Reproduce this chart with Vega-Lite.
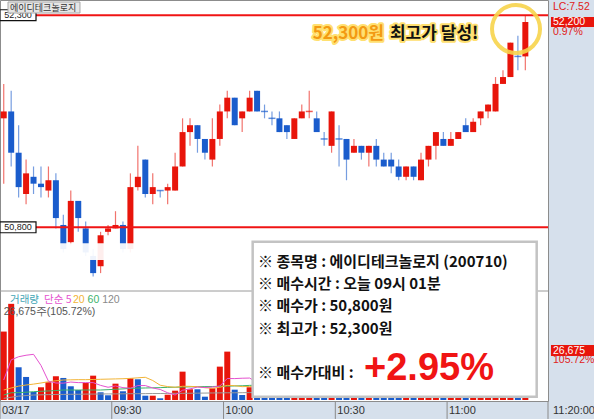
{
"$schema": "https://vega.github.io/schema/vega-lite/v6.json",
"width": 548, "height": 401,
"autosize": {"type": "none"},
"padding": {"left": 0, "top": 0, "right": 46, "bottom": 18},
"background": "#d6e0ec",
"config": {
  "view": {"fill": "#ffffff", "stroke": "#8c8c8c", "strokeWidth": 1},
  "font": "Liberation Sans",
  "axis": {"labelFont": "Liberation Sans", "labelFontSize": 10.5, "labelColor": "#4a4a4a", "tickColor": "#5a5a5a", "domain": false, "grid": false, "title": null}
},
"datasets": {
  "candles": [
    {"t":"2025-03-17T09:00","o":50800,"h":51300,"l":49850,"c":50900,"d":"up","v":37000,"vd":"up"},
    {"t":"2025-03-17T09:02","o":50900,"h":51200,"l":50100,"c":50300,"d":"down","v":52000,"vd":"up"},
    {"t":"2025-03-17T09:04","o":50300,"h":50700,"l":49650,"c":49800,"d":"down","v":17700,"vd":"down"},
    {"t":"2025-03-17T09:06","o":49700,"h":50200,"l":49550,"c":50000,"d":"up","v":12460,"vd":"down"},
    {"t":"2025-03-17T09:08","o":49950,"h":50100,"l":49700,"c":49850,"d":"down","v":4330,"vd":"down"},
    {"t":"2025-03-17T09:10","o":49850,"h":50100,"l":49650,"c":49800,"d":"down","v":6880,"vd":"up"},
    {"t":"2025-03-17T09:12","o":49750,"h":50100,"l":49650,"c":49900,"d":"up","v":9590,"vd":"up"},
    {"t":"2025-03-17T09:14","o":49900,"h":50000,"l":49200,"c":49350,"d":"down","v":12840,"vd":"up"},
    {"t":"2025-03-17T09:16","o":49250,"h":49400,"l":48850,"c":48900,"d":"down","v":11920,"vd":"down"},
    {"t":"2025-03-17T09:18","o":49000,"h":49750,"l":48950,"c":49600,"d":"up","v":7420,"vd":"down"},
    {"t":"2025-03-17T09:20","o":49600,"h":49600,"l":49150,"c":49350,"d":"down","v":5420,"vd":"down"},
    {"t":"2025-03-17T09:22","o":49200,"h":49300,"l":48800,"c":48850,"d":"down","v":9210,"vd":"up"},
    {"t":"2025-03-17T09:24","o":48800,"h":48900,"l":48500,"c":48550,"d":"down","v":13160,"vd":"up"},
    {"t":"2025-03-17T09:26","o":48650,"h":49150,"l":48550,"c":49100,"d":"up","v":4170,"vd":"down"},
    {"t":"2025-03-17T09:28","o":49150,"h":49250,"l":49100,"c":49200,"d":"up","v":2550,"vd":"down"},
    {"t":"2025-03-17T09:30","o":49200,"h":49450,"l":49200,"c":49250,"d":"up","v":8830,"vd":"up"},
    {"t":"2025-03-17T09:32","o":49250,"h":49300,"l":48850,"c":48900,"d":"down","v":4710,"vd":"down"},
    {"t":"2025-03-17T09:34","o":48900,"h":50000,"l":48850,"c":49800,"d":"up","v":11750,"vd":"up"},
    {"t":"2025-03-17T09:36","o":49800,"h":50400,"l":49750,"c":49950,"d":"up","v":11210,"vd":"down"},
    {"t":"2025-03-17T09:38","o":50200,"h":50200,"l":49650,"c":49700,"d":"down","v":2330,"vd":"down"},
    {"t":"2025-03-17T09:40","o":49700,"h":50000,"l":49550,"c":49800,"d":"up","v":2330,"vd":"up"},
    {"t":"2025-03-17T09:42","o":49750,"h":49750,"l":49650,"c":49750,"d":"down","v":920,"vd":"down"},
    {"t":"2025-03-17T09:44","o":49750,"h":49850,"l":49550,"c":49800,"d":"up","v":2870,"vd":"up"},
    {"t":"2025-03-17T09:46","o":49750,"h":50300,"l":49750,"c":50100,"d":"up","v":5040,"vd":"up"},
    {"t":"2025-03-17T09:48","o":50100,"h":50800,"l":50100,"c":50600,"d":"up","v":15330,"vd":"up"},
    {"t":"2025-03-17T09:50","o":50600,"h":50800,"l":50400,"c":50700,"d":"up","v":5800,"vd":"up"},
    {"t":"2025-03-17T09:52","o":50700,"h":50700,"l":50300,"c":50500,"d":"down","v":5800,"vd":"down"},
    {"t":"2025-03-17T09:54","o":50500,"h":50500,"l":50200,"c":50300,"d":"down","v":1790,"vd":"down"},
    {"t":"2025-03-17T09:56","o":50200,"h":50800,"l":50100,"c":50500,"d":"up","v":6340,"vd":"up"},
    {"t":"2025-03-17T09:58","o":50500,"h":51000,"l":50400,"c":50900,"d":"up","v":18040,"vd":"up"},
    {"t":"2025-03-17T10:00","o":50900,"h":51200,"l":50800,"c":51100,"d":"up","v":26160,"vd":"up"},
    {"t":"2025-03-17T10:02","o":51100,"h":51100,"l":50700,"c":50700,"d":"down","v":5580,"vd":"down"},
    {"t":"2025-03-17T10:04","o":50800,"h":50900,"l":50600,"c":50900,"d":"up","v":2710,"vd":"down"},
    {"t":"2025-03-17T10:06","o":50900,"h":51200,"l":50900,"c":51100,"d":"up","v":6880,"vd":"up"},
    {"t":"2025-03-17T10:08","o":51200,"h":51200,"l":50900,"c":50900,"d":"down","v":6000,"vd":"down"},
    {"t":"2025-03-17T10:10","o":50900,"h":51000,"l":50800,"c":50900,"d":"down","v":3000,"vd":"down"},
    {"t":"2025-03-17T10:12","o":50800,"h":50900,"l":50700,"c":50800,"d":"down","v":2500,"vd":"down"},
    {"t":"2025-03-17T10:14","o":50800,"h":50900,"l":50600,"c":50600,"d":"down","v":4000,"vd":"down"},
    {"t":"2025-03-17T10:16","o":50700,"h":50700,"l":50500,"c":50600,"d":"down","v":3000,"vd":"down"},
    {"t":"2025-03-17T10:18","o":50500,"h":50800,"l":50500,"c":50800,"d":"up","v":5000,"vd":"up"},
    {"t":"2025-03-17T10:20","o":50800,"h":51000,"l":50800,"c":50900,"d":"up","v":4000,"vd":"up"},
    {"t":"2025-03-17T10:22","o":50900,"h":51200,"l":50800,"c":50900,"d":"up","v":2500,"vd":"up"},
    {"t":"2025-03-17T10:24","o":50800,"h":50900,"l":50600,"c":50600,"d":"down","v":4500,"vd":"down"},
    {"t":"2025-03-17T10:26","o":50500,"h":50600,"l":50400,"c":50500,"d":"down","v":2000,"vd":"down"},
    {"t":"2025-03-17T10:28","o":50400,"h":50900,"l":50300,"c":50900,"d":"up","v":9000,"vd":"up"},
    {"t":"2025-03-17T10:30","o":50500,"h":50700,"l":50100,"c":50500,"d":"down","v":3500,"vd":"down"},
    {"t":"2025-03-17T10:32","o":50500,"h":50500,"l":49900,"c":50200,"d":"down","v":7000,"vd":"down"},
    {"t":"2025-03-17T10:34","o":50300,"h":50500,"l":50300,"c":50400,"d":"up","v":2500,"vd":"up"},
    {"t":"2025-03-17T10:36","o":50400,"h":50400,"l":50200,"c":50300,"d":"down","v":2000,"vd":"down"},
    {"t":"2025-03-17T10:38","o":50300,"h":50400,"l":50100,"c":50400,"d":"up","v":2200,"vd":"up"},
    {"t":"2025-03-17T10:40","o":50400,"h":50500,"l":50100,"c":50200,"d":"down","v":3800,"vd":"down"},
    {"t":"2025-03-17T10:42","o":50200,"h":50300,"l":50100,"c":50100,"d":"down","v":2500,"vd":"down"},
    {"t":"2025-03-17T10:44","o":50200,"h":50300,"l":50000,"c":50100,"d":"down","v":2600,"vd":"down"},
    {"t":"2025-03-17T10:46","o":50100,"h":50200,"l":49900,"c":49950,"d":"down","v":4200,"vd":"down"},
    {"t":"2025-03-17T10:48","o":49950,"h":50100,"l":49900,"c":50100,"d":"up","v":3000,"vd":"up"},
    {"t":"2025-03-17T10:50","o":50100,"h":50100,"l":49900,"c":49950,"d":"down","v":2600,"vd":"down"},
    {"t":"2025-03-17T10:52","o":49900,"h":50300,"l":49900,"c":50200,"d":"up","v":6500,"vd":"up"},
    {"t":"2025-03-17T10:54","o":50200,"h":50400,"l":50100,"c":50400,"d":"up","v":5200,"vd":"up"},
    {"t":"2025-03-17T10:56","o":50400,"h":50600,"l":50200,"c":50600,"d":"up","v":6100,"vd":"up"},
    {"t":"2025-03-17T10:58","o":50500,"h":50600,"l":50400,"c":50400,"d":"down","v":2800,"vd":"down"},
    {"t":"2025-03-17T11:00","o":50400,"h":50600,"l":50400,"c":50500,"d":"up","v":3100,"vd":"up"},
    {"t":"2025-03-17T11:02","o":50500,"h":50600,"l":50500,"c":50600,"d":"up","v":3300,"vd":"up"},
    {"t":"2025-03-17T11:04","o":50700,"h":50800,"l":50600,"c":50600,"d":"down","v":2900,"vd":"down"},
    {"t":"2025-03-17T11:06","o":50600,"h":50800,"l":50600,"c":50750,"d":"up","v":4800,"vd":"up"},
    {"t":"2025-03-17T11:08","o":50800,"h":50900,"l":50700,"c":50900,"d":"up","v":4200,"vd":"up"},
    {"t":"2025-03-17T11:10","o":50900,"h":51000,"l":50800,"c":51000,"d":"up","v":4600,"vd":"up"},
    {"t":"2025-03-17T11:12","o":50900,"h":51400,"l":50900,"c":51300,"d":"up","v":12500,"vd":"up"},
    {"t":"2025-03-17T11:14","o":51300,"h":51500,"l":51300,"c":51400,"d":"up","v":7800,"vd":"up"},
    {"t":"2025-03-17T11:16","o":51400,"h":51900,"l":51400,"c":51900,"d":"up","v":21000,"vd":"up"},
    {"t":"2025-03-17T11:18","o":51700,"h":52000,"l":51500,"c":51700,"d":"down","v":15000,"vd":"down"},
    {"t":"2025-03-17T11:20","o":51700,"h":52300,"l":51500,"c":52200,"d":"up","v":26675,"vd":"up"}
  ],
  "ma": [
    {"t":"2025-03-17T09:00","m5":10800,"m20":5400,"m60":2700,"m120":900},
    {"t":"2025-03-17T09:02","m5":21700,"m20":6500,"m60":3900,"m120":1500},
    {"t":"2025-03-17T09:04","m5":23400,"m20":7500,"m60":4000,"m120":2100},
    {"t":"2025-03-17T09:06","m5":24200,"m20":8100,"m60":4200,"m120":2400},
    {"t":"2025-03-17T09:08","m5":24700,"m20":8600,"m60":4500,"m120":2700},
    {"t":"2025-03-17T09:10","m5":18700,"m20":9200,"m60":4700,"m120":2800},
    {"t":"2025-03-17T09:12","m5":10200,"m20":9900,"m60":4900,"m120":2900},
    {"t":"2025-03-17T09:14","m5":9200,"m20":10400,"m60":5100,"m120":3000},
    {"t":"2025-03-17T09:16","m5":9100,"m20":10800,"m60":5400,"m120":3000},
    {"t":"2025-03-17T09:18","m5":9700,"m20":10900,"m60":5400,"m120":3100},
    {"t":"2025-03-17T09:20","m5":9400,"m20":11000,"m60":5400,"m120":3100},
    {"t":"2025-03-17T09:22","m5":9400,"m20":11000,"m60":5400,"m120":3200},
    {"t":"2025-03-17T09:24","m5":9400,"m20":11100,"m60":5400,"m120":3200},
    {"t":"2025-03-17T09:26","m5":7900,"m20":11200,"m60":5400,"m120":3250},
    {"t":"2025-03-17T09:28","m5":6900,"m20":11300,"m60":5600,"m120":3300},
    {"t":"2025-03-17T09:30","m5":7600,"m20":11400,"m60":5800,"m120":3300},
    {"t":"2025-03-17T09:32","m5":6700,"m20":11500,"m60":6000,"m120":3350},
    {"t":"2025-03-17T09:34","m5":6400,"m20":11700,"m60":6300,"m120":3400},
    {"t":"2025-03-17T09:36","m5":7800,"m20":12000,"m60":6400,"m120":3400},
    {"t":"2025-03-17T09:38","m5":7800,"m20":12270,"m60":6500,"m120":3450},
    {"t":"2025-03-17T09:40","m5":6500,"m20":10540,"m60":6600,"m120":3500},
    {"t":"2025-03-17T09:42","m5":5700,"m20":7990,"m60":6700,"m120":3500},
    {"t":"2025-03-17T09:44","m5":3900,"m20":7250,"m60":6850,"m120":3550},
    {"t":"2025-03-17T09:46","m5":2700,"m20":6870,"m60":6900,"m120":3600},
    {"t":"2025-03-17T09:48","m5":5300,"m20":7420,"m60":7000,"m120":3600},
    {"t":"2025-03-17T09:50","m5":6000,"m20":7370,"m60":7100,"m120":3650},
    {"t":"2025-03-17T09:52","m5":7000,"m20":7180,"m60":7200,"m120":3700},
    {"t":"2025-03-17T09:54","m5":6750,"m20":6630,"m60":7250,"m120":3750},
    {"t":"2025-03-17T09:56","m5":7000,"m20":6350,"m60":7300,"m120":3800},
    {"t":"2025-03-17T09:58","m5":7550,"m20":6880,"m60":7400,"m120":3850},
    {"t":"2025-03-17T10:00","m5":11630,"m20":7920,"m60":7500,"m120":3900},
    {"t":"2025-03-17T10:02","m5":11580,"m20":7740,"m60":7600,"m120":3900},
    {"t":"2025-03-17T10:04","m5":11770,"m20":7210,"m60":7700,"m120":3950},
    {"t":"2025-03-17T10:06","m5":11870,"m20":7350,"m60":7900,"m120":4000},
    {"t":"2025-03-17T10:08","m5":9470,"m20":7400,"m60":8000,"m120":4000}
  ],
  "levels": [
    {"label": "52,300", "level": 52300},
    {"label": "50,800", "level": 49215}
  ],
  "xticks": [
    {"tt": "2025-03-17T09:00", "label": "03/17"},
    {"tt": "2025-03-17T09:30", "label": "09:30"},
    {"tt": "2025-03-17T10:00", "label": "10:00"},
    {"tt": "2025-03-17T10:30", "label": "10:30"},
    {"tt": "2025-03-17T11:00", "label": "11:00"},
    {"tt": "2025-03-17T11:27:05", "label": ""}
  ]
},
"resolve": {"scale": {"y": "independent"}, "axis": {"y": "independent"}},
"layer": [
  {
    "data": {"name": "candles"},
    "layer": [
      {"mark": {"type": "rule", "strokeWidth": 1.2, "opacity": 0.6},
       "encoding": {
         "x": {"field": "t", "type": "temporal", "timeUnit": {"unit": "yearmonthdatehoursminutes", "step": 2}, "bandPosition": 0.5, "scale": {"domain": [{"year":2025,"month":3,"date":17,"hours":9,"minutes":0},{"year":2025,"month":3,"date":17,"hours":11,"minutes":27,"seconds":5}], "nice": false}, "axis": null},
         "y": {"field": "h", "type": "quantitative", "scale": {"domain": [48290, 52520], "range": [291, 0], "nice": false, "zero": false}, "axis": null},
         "y2": {"field": "l"},
         "color": {"field": "d", "type": "nominal", "scale": {"domain": ["up", "down"], "range": ["#e8150b", "#1a5ccc"]}, "legend": null}
       }},
      {"mark": {"type": "rule", "strokeWidth": 6},
       "encoding": {
         "x": {"field": "t", "type": "temporal", "timeUnit": {"unit": "yearmonthdatehoursminutes", "step": 2}, "bandPosition": 0.5, "axis": null},
         "y": {"field": "o", "type": "quantitative", "scale": {"domain": [48290, 52520], "range": [291, 0], "nice": false, "zero": false},
               "axis": {"orient": "right", "values": [48500, 49000, 49500, 50000, 50500, 51000, 51500, 52000], "format": ",", "tickSize": 4, "labelPadding": 2, "title": null}},
         "y2": {"field": "c"},
         "color": {"field": "d", "type": "nominal", "scale": {"domain": ["up", "down"], "range": ["#e8150b", "#1a5ccc"]}, "legend": null}
       }},
      {"transform": [{"filter": "datum.o == datum.c"}],
       "mark": {"type": "tick", "orient": "horizontal", "size": 7, "thickness": 1.5},
       "encoding": {
         "x": {"field": "t", "type": "temporal", "timeUnit": {"unit": "yearmonthdatehoursminutes", "step": 2}, "bandPosition": 0.5, "axis": null},
         "y": {"field": "c", "type": "quantitative", "axis": null},
         "color": {"field": "d", "type": "nominal", "scale": {"domain": ["up", "down"], "range": ["#e8150b", "#1a5ccc"]}, "legend": null}
       }},
      {"data": {"values": [{}]},
       "mark": {"type": "rect", "fill": "#ffffff", "opacity": 0.93},
       "encoding": {
         "x": {"datum": {"year":2025,"month":3,"date":17,"hours":9,"minutes":16,"seconds":2}, "type": "temporal", "axis": null},
         "x2": {"datum": {"year":2025,"month":3,"date":17,"hours":9,"minutes":46,"seconds":54}},
         "y": {"datum": 48983, "type": "quantitative", "axis": null},
         "y2": {"datum": 48741}
       }},
      {"data": {"values": [{}]},
       "mark": {"type": "rule", "color": "#9a9a9a", "strokeWidth": 1},
       "encoding": {"y": {"datum": 48290, "type": "quantitative", "axis": null}}},
      {"data": {"name": "levels"},
       "mark": {"type": "rule", "color": "#f01414", "strokeWidth": 2},
       "encoding": {"y": {"field": "level", "type": "quantitative", "axis": null}}},
      {"data": {"name": "levels"},
       "mark": {"type": "point", "shape": "M-1,-0.3H1V0.3H-1Z", "size": 1296, "filled": true, "fill": "#ffffff", "stroke": "#111111", "strokeWidth": 1.2, "opacity": 1},
       "encoding": {
         "x": {"datum": {"year":2025,"month":3,"date":17,"hours":9,"minutes":4,"seconds":50}, "type": "temporal", "axis": null},
         "y": {"field": "level", "type": "quantitative", "axis": null}
       }},
      {"data": {"name": "levels"},
       "mark": {"type": "text", "fontSize": 9, "color": "#222222", "font": "Liberation Sans"},
       "encoding": {
         "x": {"datum": {"year":2025,"month":3,"date":17,"hours":9,"minutes":4,"seconds":50}, "type": "temporal", "axis": null},
         "y": {"field": "level", "type": "quantitative", "axis": null},
         "text": {"field": "label"}
       }}
    ]
  },
  {
    "data": {"name": "candles"},
    "layer": [
      {"mark": {"type": "rule", "strokeWidth": 6},
       "encoding": {
         "x": {"field": "t", "type": "temporal", "timeUnit": {"unit": "yearmonthdatehoursminutes", "step": 2}, "bandPosition": 0.5, "axis": null},
         "y": {"field": "v", "type": "quantitative", "scale": {"domain": [0, 58400], "range": [400, 292], "nice": false, "zero": false},
               "axis": {"orient": "right", "values": [10000, 20000, 30000, 40000, 50000], "format": ",", "tickSize": 4, "labelPadding": 2, "title": null}},
         "y2": {"datum": 0},
         "color": {"field": "vd", "type": "nominal", "scale": {"domain": ["up", "down"], "range": ["#e8150b", "#1a5ccc"]}, "legend": null}
       }},
      {"data": {"name": "ma"}, "mark": {"type": "line", "color": "#9a9a9a", "strokeWidth": 1},
       "encoding": {"x": {"field": "t", "type": "temporal", "timeUnit": {"unit": "yearmonthdatehoursminutes", "step": 2}, "bandPosition": 0.5, "axis": null},
                    "y": {"field": "m120", "type": "quantitative", "axis": null}}},
      {"data": {"name": "ma"}, "mark": {"type": "line", "color": "#3cb36a", "strokeWidth": 1},
       "encoding": {"x": {"field": "t", "type": "temporal", "timeUnit": {"unit": "yearmonthdatehoursminutes", "step": 2}, "bandPosition": 0.5, "axis": null},
                    "y": {"field": "m60", "type": "quantitative", "axis": null}}},
      {"data": {"name": "ma"}, "mark": {"type": "line", "color": "#f2b436", "strokeWidth": 1},
       "encoding": {"x": {"field": "t", "type": "temporal", "timeUnit": {"unit": "yearmonthdatehoursminutes", "step": 2}, "bandPosition": 0.5, "axis": null},
                    "y": {"field": "m20", "type": "quantitative", "axis": null}}},
      {"data": {"name": "ma"}, "mark": {"type": "line", "color": "#e552cf", "strokeWidth": 1},
       "encoding": {"x": {"field": "t", "type": "temporal", "timeUnit": {"unit": "yearmonthdatehoursminutes", "step": 2}, "bandPosition": 0.5, "axis": null},
                    "y": {"field": "m5", "type": "quantitative", "axis": null}}},
      {"data": {"values": [{"s": "거래량"}]}, "mark": {"type": "text", "align": "left", "baseline": "middle", "font": "Noto Sans CJK KR", "fontSize": 10.5, "color": "#3fa6b6"},
       "encoding": {"x": {"datum": {"year":2025,"month":3,"date":17,"hours":9,"minutes":2,"seconds":41}, "type": "temporal", "axis": null}, "y": {"datum": 54070, "type": "quantitative", "axis": null}, "text": {"field": "s"}}},
      {"data": {"values": [{"s": "단순 5"}]}, "mark": {"type": "text", "align": "left", "baseline": "middle", "font": "Noto Sans CJK KR", "fontSize": 10.5, "color": "#e552cf"},
       "encoding": {"x": {"datum": {"year":2025,"month":3,"date":17,"hours":9,"minutes":11,"seconds":50}, "type": "temporal", "axis": null}, "y": {"datum": 54070, "type": "quantitative", "axis": null}, "text": {"field": "s"}}},
      {"data": {"values": [{"s": "20"}]}, "mark": {"type": "text", "align": "left", "baseline": "middle", "font": "Liberation Sans", "fontSize": 10.5, "color": "#f2b436"},
       "encoding": {"x": {"datum": {"year":2025,"month":3,"date":17,"hours":9,"minutes":19,"seconds":35}, "type": "temporal", "axis": null}, "y": {"datum": 54070, "type": "quantitative", "axis": null}, "text": {"field": "s"}}},
      {"data": {"values": [{"s": "60"}]}, "mark": {"type": "text", "align": "left", "baseline": "middle", "font": "Liberation Sans", "fontSize": 10.5, "color": "#3cb36a"},
       "encoding": {"x": {"datum": {"year":2025,"month":3,"date":17,"hours":9,"minutes":23,"seconds":30}, "type": "temporal", "axis": null}, "y": {"datum": 54070, "type": "quantitative", "axis": null}, "text": {"field": "s"}}},
      {"data": {"values": [{"s": "120"}]}, "mark": {"type": "text", "align": "left", "baseline": "middle", "font": "Liberation Sans", "fontSize": 10.5, "color": "#8a8a8a"},
       "encoding": {"x": {"datum": {"year":2025,"month":3,"date":17,"hours":9,"minutes":27,"seconds":25}, "type": "temporal", "axis": null}, "y": {"datum": 54070, "type": "quantitative", "axis": null}, "text": {"field": "s"}}},
      {"data": {"values": [{"s": "26,675주(105.72%)"}]}, "mark": {"type": "text", "align": "left", "baseline": "middle", "font": "Liberation Sans", "fontSize": 10.5, "color": "#555555"},
       "encoding": {"x": {"datum": {"year":2025,"month":3,"date":17,"hours":9,"minutes":1,"seconds":0}, "type": "temporal", "axis": null}, "y": {"datum": 47750, "type": "quantitative", "axis": null}, "text": {"field": "s"}}}
    ]
  },
  {
    "layer": [
      {"data": {"values": [{}]},
       "mark": {"type": "rect", "fill": "#ffffff", "stroke": "#c3c3c3", "strokeWidth": 2.5},
       "encoding": {
         "x": {"datum": {"year":2025,"month":3,"date":17,"hours":10,"minutes":7,"seconds":49}, "type": "temporal", "axis": null},
         "x2": {"datum": {"year":2025,"month":3,"date":17,"hours":11,"minutes":24,"seconds":3}},
         "y": {"datum": 49007, "type": "quantitative", "scale": {"domain": [48290, 52520], "range": [291, 0], "nice": false, "zero": false}, "axis": null},
         "y2": {"datum": 46754}
       }},
      {"data": {"name": "xticks"},
       "mark": {"type": "rule", "color": "#8a8a8a", "strokeWidth": 1},
       "encoding": {
         "x": {"field": "tt", "type": "temporal", "axis": null},
         "y": {"datum": 46691, "type": "quantitative", "axis": null},
         "y2": {"datum": 46430}
       }},
      {"data": {"name": "xticks"},
       "mark": {"type": "text", "align": "left", "baseline": "middle", "dx": 2, "font": "Liberation Sans", "fontSize": 11, "color": "#333333"},
       "encoding": {
         "x": {"field": "tt", "type": "temporal", "axis": null},
         "y": {"datum": 46546, "type": "quantitative", "axis": null},
         "text": {"field": "label"}
       }},
      {"data": {"values": [{"lines": ["※ 종목명 : 에이디테크놀로지 (200710)", "※ 매수시간 : 오늘 09시 01분", "※ 매수가 : 50,800원", "※ 최고가 : 52,300원"]}]},
       "mark": {"type": "text", "align": "left", "baseline": "middle", "font": "Noto Sans CJK KR", "fontSize": 15, "fontWeight": "bold", "lineHeight": 22.3, "color": "#111111"},
       "encoding": {
         "x": {"datum": {"year":2025,"month":3,"date":17,"hours":10,"minutes":9,"seconds":15}, "type": "temporal", "axis": null},
         "y": {"datum": 48716, "type": "quantitative", "axis": null},
         "text": {"field": "lines"}
       }},
      {"data": {"values": [{"s": "※ 매수가대비 :"}]},
       "mark": {"type": "text", "align": "left", "baseline": "middle", "font": "Noto Sans CJK KR", "fontSize": 15, "fontWeight": "bold", "color": "#111111"},
       "encoding": {
         "x": {"datum": {"year":2025,"month":3,"date":17,"hours":10,"minutes":9,"seconds":15}, "type": "temporal", "axis": null},
         "y": {"datum": 47094, "type": "quantitative", "axis": null},
         "text": {"field": "s"}
       }},
      {"data": {"values": [{"s": "+2.95%"}]},
       "mark": {"type": "text", "align": "left", "baseline": "middle", "font": "Liberation Sans", "fontSize": 38, "fontWeight": "bold", "color": "#f01414"},
       "encoding": {
         "x": {"datum": {"year":2025,"month":3,"date":17,"hours":10,"minutes":37,"seconds":42}, "type": "temporal", "axis": null},
         "y": {"datum": 47160, "type": "quantitative", "axis": null},
         "text": {"field": "s"}
       }},
      {"data": {"values": [{"s": "52,300원"}]},
       "mark": {"type": "text", "align": "right", "baseline": "middle", "font": "Noto Sans CJK KR", "fontSize": 17, "fontWeight": "bold", "color": "#ffe070", "stroke": "#ffe070", "strokeWidth": 4, "strokeJoin": "round"},
       "encoding": {
         "x": {"datum": {"year":2025,"month":3,"date":17,"hours":10,"minutes":43,"seconds":4}, "type": "temporal", "axis": null},
         "y": {"datum": 52026, "type": "quantitative", "axis": null},
         "text": {"field": "s"}
       }},
      {"data": {"values": [{"s": "52,300원"}]},
       "mark": {"type": "text", "align": "right", "baseline": "middle", "font": "Noto Sans CJK KR", "fontSize": 17, "fontWeight": "bold", "color": "#f39a12"},
       "encoding": {
         "x": {"datum": {"year":2025,"month":3,"date":17,"hours":10,"minutes":43,"seconds":4}, "type": "temporal", "axis": null},
         "y": {"datum": 52026, "type": "quantitative", "axis": null},
         "text": {"field": "s"}
       }},
      {"data": {"values": [{"s": "최고가 달성!"}]},
       "mark": {"type": "text", "align": "left", "baseline": "middle", "font": "Noto Sans CJK KR", "fontSize": 17, "fontWeight": "bold", "color": "#ffe070", "stroke": "#ffe070", "strokeWidth": 4, "strokeJoin": "round"},
       "encoding": {
         "x": {"datum": {"year":2025,"month":3,"date":17,"hours":10,"minutes":44,"seconds":40}, "type": "temporal", "axis": null},
         "y": {"datum": 52026, "type": "quantitative", "axis": null},
         "text": {"field": "s"}
       }},
      {"data": {"values": [{"s": "최고가 달성!"}]},
       "mark": {"type": "text", "align": "left", "baseline": "middle", "font": "Noto Sans CJK KR", "fontSize": 17, "fontWeight": "bold", "color": "#111111"},
       "encoding": {
         "x": {"datum": {"year":2025,"month":3,"date":17,"hours":10,"minutes":44,"seconds":40}, "type": "temporal", "axis": null},
         "y": {"datum": 52026, "type": "quantitative", "axis": null},
         "text": {"field": "s"}
       }},
      {"data": {"values": [{}]},
       "mark": {"type": "point", "shape": "circle", "size": 2304, "filled": false, "stroke": "#f8d44c", "strokeWidth": 4, "opacity": 0.9},
       "encoding": {
         "x": {"datum": {"year":2025,"month":3,"date":17,"hours":11,"minutes":18,"seconds":30}, "type": "temporal", "axis": null},
         "y": {"datum": 52098, "type": "quantitative", "axis": null}
       }},
      {"data": {"values": [{}]},
       "mark": {"type": "rect", "fill": "#e6e6e6", "stroke": "#a8a8a8", "strokeWidth": 1},
       "encoding": {
         "x": {"datum": {"year":2025,"month":3,"date":17,"hours":9,"minutes":2,"seconds":9}, "type": "temporal", "axis": null},
         "x2": {"datum": {"year":2025,"month":3,"date":17,"hours":9,"minutes":21,"seconds":28}},
         "y": {"datum": 52491, "type": "quantitative", "axis": null},
         "y2": {"datum": 52331}
       }},
      {"data": {"values": [{"s": "에이디테크놀로지"}]},
       "mark": {"type": "text", "align": "left", "baseline": "middle", "font": "Noto Sans CJK KR", "fontSize": 9, "color": "#333333"},
       "encoding": {
         "x": {"datum": {"year":2025,"month":3,"date":17,"hours":9,"minutes":2,"seconds":41}, "type": "temporal", "axis": null},
         "y": {"datum": 52405, "type": "quantitative", "axis": null},
         "text": {"field": "s"}
       }},
      {"data": {"values": [{"s": "LC:7.52"}]},
       "mark": {"type": "text", "align": "left", "baseline": "middle", "font": "Liberation Sans", "fontSize": 10.5, "color": "#e02020"},
       "encoding": {
         "x": {"datum": {"year":2025,"month":3,"date":17,"hours":11,"minutes":28,"seconds":25}, "type": "temporal", "axis": null},
         "y": {"datum": 52418, "type": "quantitative", "axis": null},
         "text": {"field": "s"}
       }},
      {"data": {"values": [{}]},
       "mark": {"type": "rect", "fill": "#e8150b"},
       "encoding": {
         "x": {"datum": {"year":2025,"month":3,"date":17,"hours":11,"minutes":27,"seconds":53}, "type": "temporal", "axis": null},
         "x2": {"datum": {"year":2025,"month":3,"date":17,"hours":11,"minutes":39,"seconds":26}},
         "y": {"datum": 52273, "type": "quantitative", "axis": null},
         "y2": {"datum": 52128}
       }},
      {"data": {"values": [{"s": "52,200"}]},
       "mark": {"type": "text", "align": "left", "baseline": "middle", "font": "Liberation Sans", "fontSize": 10.5, "color": "#ffffff"},
       "encoding": {
         "x": {"datum": {"year":2025,"month":3,"date":17,"hours":11,"minutes":28,"seconds":25}, "type": "temporal", "axis": null},
         "y": {"datum": 52200, "type": "quantitative", "axis": null},
         "text": {"field": "s"}
       }},
      {"data": {"values": [{"s": "0.97%"}]},
       "mark": {"type": "text", "align": "left", "baseline": "middle", "font": "Liberation Sans", "fontSize": 10.5, "color": "#e02020"},
       "encoding": {
         "x": {"datum": {"year":2025,"month":3,"date":17,"hours":11,"minutes":28,"seconds":25}, "type": "temporal", "axis": null},
         "y": {"datum": 52055, "type": "quantitative", "axis": null},
         "text": {"field": "s"}
       }},
      {"data": {"values": [{}]},
       "mark": {"type": "rect", "fill": "#e8150b"},
       "encoding": {
         "x": {"datum": {"year":2025,"month":3,"date":17,"hours":11,"minutes":27,"seconds":53}, "type": "temporal", "axis": null},
         "x2": {"datum": {"year":2025,"month":3,"date":17,"hours":11,"minutes":39,"seconds":26}},
         "y": {"datum": 47505, "type": "quantitative", "axis": null},
         "y2": {"datum": 47345}
       }},
      {"data": {"values": [{"s": "26,675"}]},
       "mark": {"type": "text", "align": "left", "baseline": "middle", "font": "Liberation Sans", "fontSize": 10.5, "color": "#ffffff"},
       "encoding": {
         "x": {"datum": {"year":2025,"month":3,"date":17,"hours":11,"minutes":28,"seconds":25}, "type": "temporal", "axis": null},
         "y": {"datum": 47425, "type": "quantitative", "axis": null},
         "text": {"field": "s"}
       }},
      {"data": {"values": [{"s": "105.72%"}]},
       "mark": {"type": "text", "align": "left", "baseline": "middle", "font": "Liberation Sans", "fontSize": 10.5, "color": "#e02020"},
       "encoding": {
         "x": {"datum": {"year":2025,"month":3,"date":17,"hours":11,"minutes":28,"seconds":25}, "type": "temporal", "axis": null},
         "y": {"datum": 47287, "type": "quantitative", "axis": null},
         "text": {"field": "s"}
       }},
      {"data": {"values": [{"s": "11:20:00"}]},
       "mark": {"type": "text", "align": "left", "baseline": "middle", "font": "Liberation Sans", "fontSize": 11, "color": "#333333"},
       "encoding": {
         "x": {"datum": {"year":2025,"month":3,"date":17,"hours":11,"minutes":28,"seconds":25}, "type": "temporal", "axis": null},
         "y": {"datum": 46546, "type": "quantitative", "axis": null},
         "text": {"field": "s"}
       }}
    ]
  }
]
}
